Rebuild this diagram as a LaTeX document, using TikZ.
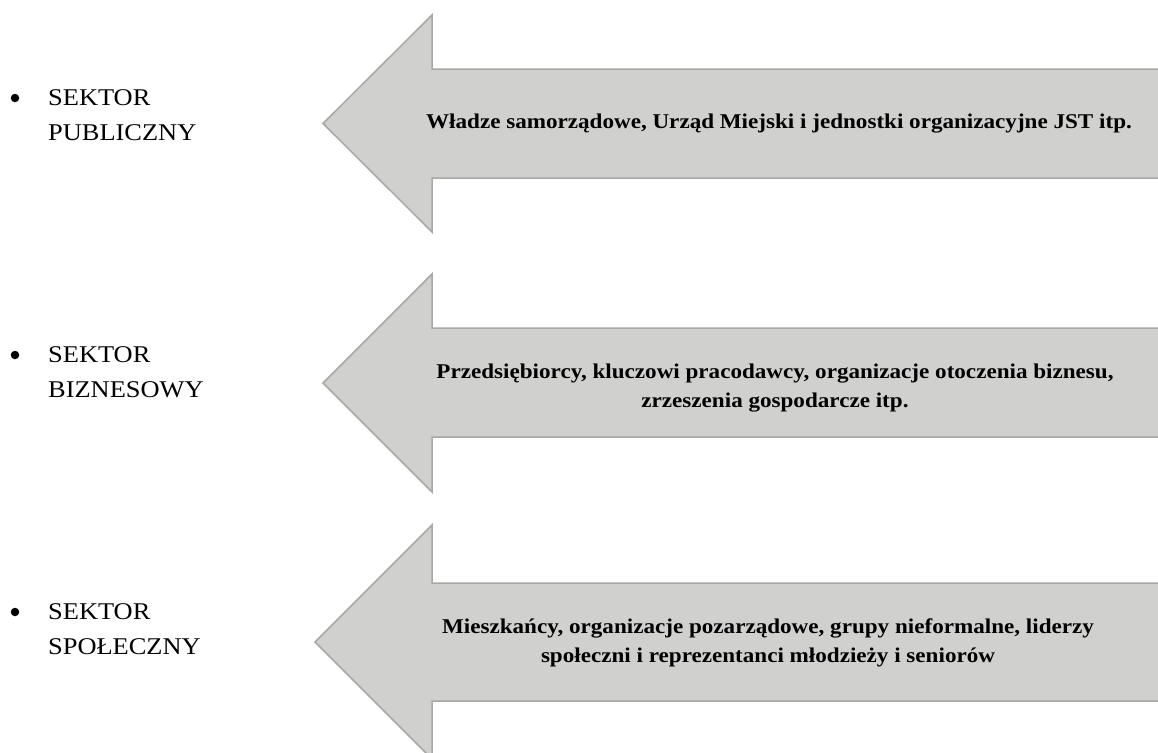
\documentclass[tikz,border=0pt]{standalone}
\usepackage{fontspec}
\setmainfont[FakeStretch=1.1]{Liberation Serif}
\definecolor{arrowfill}{RGB}{208,208,207}
\definecolor{arrowline}{RGB}{168,169,164}
\begin{document}
\begin{tikzpicture}[x=1pt, y=-1pt,
    sectorarrow/.style={fill=arrowfill, draw=arrowline, line width=1.5pt, line join=miter},
    sectorname/.style={anchor=west, align=left, inner sep=0pt, font=\fontsize{24}{35}\selectfont},
    bulletmark/.style={circle, fill=black, inner sep=0pt, minimum size=8.5pt},
    actors/.style={align=center, inner sep=0pt, font=\bfseries\fontsize{21}{29}\selectfont}]
    \useasboundingbox (0,0) rectangle (1158,752);
    \clip (0,0) rectangle (1158,752);

    % Arrows
    \draw[sectorarrow] (1170,69) -- (432,69) -- (432,15) -- (323,123.5) -- (432,232) -- (432,178) -- (1170,178) -- cycle;
    \draw[sectorarrow] (1170,328) -- (432,328) -- (432,274) -- (323,383) -- (432,492) -- (432,437) -- (1170,437) -- cycle;
    \draw[sectorarrow] (1170,583) -- (432,583) -- (432,525) -- (315,642) -- (432,759) -- (432,701) -- (1170,701) -- cycle;

    % Actors inside the arrows
    \node[actors] (publiczny) at (779,124) {Władze samorządowe, Urząd Miejski i jednostki organizacyjne JST itp.};
    \node[actors] (biznesowy) at (775,388) {Przedsiębiorcy, kluczowi pracodawcy, organizacje otoczenia biznesu,\\zrzeszenia gospodarcze itp.};
    \node[actors] (spoleczny) at (768,643) {Mieszkańcy, organizacje pozarządowe, grupy nieformalne, liderzy\\społeczni i reprezentanci młodzieży i seniorów};

    % Sectors
    \node[sectorname] (s1) at (48,115.5) {SEKTOR\\PUBLICZNY};
    \node[sectorname] (s2) at (48,372.5) {SEKTOR\\BIZNESOWY};
    \node[sectorname] (s3) at (48,629.5) {SEKTOR\\SPOŁECZNY};
    \node[bulletmark] (b1) at (15,98) {};
    \node[bulletmark] (b2) at (15,355) {};
    \node[bulletmark] (b3) at (15,612) {};
\end{tikzpicture}
\end{document}
